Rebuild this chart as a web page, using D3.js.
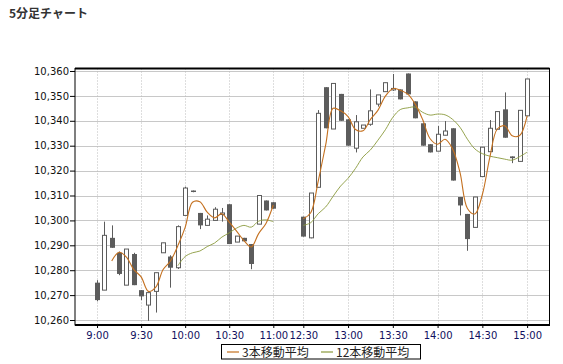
<!DOCTYPE html>
<html>
<head>
<meta charset="utf-8">
<script src="https://cdn.jsdelivr.net/npm/d3@7"></script>
<style>
  body { margin: 0; background: #fff; }
  svg { display: block; }
</style>
</head>
<body>
<svg id="chart" width="563" height="364"></svg>
<script>
'use strict';

// 5-minute bars, morning session then afternoon session
var times = [
  '9:00', '9:05', '9:10', '9:15', '9:20', '9:25', '9:30', '9:35', '9:40', '9:45',
  '9:50', '9:55', '10:00', '10:05', '10:10', '10:15', '10:20', '10:25', '10:30', '10:35',
  '10:40', '10:45', '10:50', '10:55', '11:00',
  '12:30', '12:35', '12:40', '12:45', '12:50', '12:55', '13:00', '13:05', '13:10', '13:15',
  '13:20', '13:25', '13:30', '13:35', '13:40', '13:45', '13:50', '13:55', '14:00', '14:05',
  '14:10', '14:15', '14:20', '14:25', '14:30', '14:35', '14:40', '14:45', '14:50', '14:55',
  '15:00'
];

var opens = [
  10275, 10272, 10293, 10287, 10274, 10286.5, 10272, 10266, 10271.5, 10287,
  10285.5, 10281, 10302, 10312, 10303, 10298, 10300, 10303, 10306.5, 10291.3,
  10293, 10290.5, 10298.5, 10308, 10307.3,
  10301.5, 10293, 10313.3, 10353.5, 10336.7, 10350.8, 10340.6, 10329, 10337, 10338.6,
  10346.7, 10351.7, 10353, 10352.6, 10359, 10347.8, 10339, 10330.6, 10327.8, 10334.2,
  10337, 10309.4, 10302.6, 10297.2, 10317.6, 10327.6, 10336.6, 10344.6, 10325.7, 10323.7,
  10342
];

var highs = [
  10276, 10299.5, 10298, 10287.5, 10288.5, 10287, 10272, 10271, 10279, 10291,
  10286, 10298, 10313.5, 10312, 10303, 10302, 10305.3, 10305, 10306.5, 10293.7,
  10293, 10290.5, 10310, 10308, 10307.3,
  10301.5, 10311, 10344.3, 10353.5, 10355, 10350.8, 10340.6, 10342.3, 10338.3, 10352.6,
  10350.4, 10355.3, 10358.8, 10352.6, 10359, 10347.8, 10339, 10330.6, 10337.9, 10339.9,
  10337, 10309.4, 10302.6, 10309.4, 10329.4, 10340.3, 10343.7, 10351.4, 10325.7, 10344.2,
  10356.8
];

var lows = [
  10267.5, 10272, 10289, 10278, 10274, 10274, 10268, 10259.7, 10263, 10287,
  10273, 10280.5, 10302, 10311.3, 10296.5, 10298, 10300, 10299.5, 10290.5, 10291.3,
  10291.6, 10280.4, 10298.5, 10304, 10304.7,
  10293.5, 10292.8, 10313.3, 10337, 10336.7, 10340, 10330, 10327.3, 10337, 10338,
  10345.7, 10351.7, 10352, 10348.6, 10350.6, 10341, 10330, 10327.3, 10327.8, 10334.2,
  10316, 10302, 10287.8, 10297.2, 10317.6, 10327.6, 10336.6, 10333.2, 10323, 10323.7,
  10342
];

var closes = [
  10268, 10294, 10289, 10278.5, 10288.5, 10274, 10269.5, 10271, 10279, 10291,
  10281, 10297.5, 10313, 10311.5, 10298, 10300.5, 10304.5, 10303, 10290.5, 10293.7,
  10291.6, 10282.5, 10310, 10304, 10304.7,
  10293.5, 10311, 10343, 10337, 10355, 10340, 10330, 10339.6, 10338.3, 10344,
  10350.4, 10355.3, 10353, 10348.6, 10350.6, 10341, 10330, 10327.3, 10334.6, 10335.9,
  10316, 10306, 10292.5, 10309.4, 10329.4, 10337, 10343.7, 10333.2, 10325, 10344.2,
  10356.8
];

var ma3 = [
  null, null, 10283.7, 10287.2, 10285.3, 10280.3, 10277.3, 10271.5, 10273.2, 10280.3,
  10283.7, 10289.8, 10297.2, 10307.3, 10307.5, 10303.3, 10301.0, 10302.7, 10299.3, 10295.7,
  10291.9, 10289.3, 10294.7, 10298.8, 10306.2,
  10300.7, 10303.1, 10315.8, 10330.3, 10345.0, 10344.0, 10341.7, 10336.5, 10336.0, 10340.6,
  10344.2, 10349.9, 10352.9, 10352.3, 10350.7, 10346.7, 10340.5, 10332.8, 10330.6, 10332.6,
  10328.8, 10319.3, 10304.8, 10302.6, 10310.4, 10325.3, 10336.7, 10338.0, 10334.0, 10334.1,
  10342.0
];

var ma12 = [
  null, null, null, null, null, null, null, null, null, null,
  null, 10281.8, 10285.5, 10287.0, 10287.7, 10289.5, 10290.9, 10293.3, 10295.0, 10296.9,
  10298.0, 10297.3, 10299.7, 10300.2, 10299.5,
  10298.0, 10299.1, 10302.7, 10305.4, 10309.7, 10313.8, 10316.9, 10320.9, 10325.5, 10328.3,
  10332.2, 10336.4, 10341.4, 10344.5, 10345.2, 10345.5, 10343.4, 10342.3, 10342.7, 10342.4,
  10340.6, 10337.4, 10332.6, 10328.7, 10326.8, 10325.8, 10325.2, 10324.6, 10324.2, 10325.6,
  10327.4
];

var xTickLabels = ['9:00', '9:30', '10:00', '10:30', '11:00', '12:30', '13:00', '13:30', '14:00', '14:30', '15:00'];
var yTickValues = [10260, 10270, 10280, 10290, 10300, 10310, 10320, 10330, 10340, 10350, 10360];
var seriesNames = ['3本移動平均', '12本移動平均'];

(function() {
  var colors = {
    ma3: '#c4701f',
    ma12: '#8a9a3c',
    candle: '#5c5c5c',
    grid: '#c8c8c8'
  };

  function minutes(t) {
    var p = t.split(':');
    return (+p[0]) * 60 + (+p[1]);
  }

  var svg = d3.select('#chart');
  var pLeft = 75, pRight = 549.5, pTop = 68.5, pBottom = 325;

  // time of day -> x, the lunch break squeezed down to a short gap
  var x = d3.scaleLinear()
    .domain([minutes('8:45'), minutes('11:00'), minutes('12:30'), minutes('15:15')])
    .range([pLeft, 273.3, 303.3, pRight]);

  var y = d3.scaleLinear()
    .domain([10258, 10361])
    .range([pBottom, pTop]);

  var data = times.map(function(t, i) {
    return {
      time: t, m: minutes(t),
      open: opens[i], high: highs[i], low: lows[i], close: closes[i],
      ma3: ma3[i], ma12: ma12[i]
    };
  });

  // title
  svg.append('text')
    .attr('x', 9)
    .attr('y', 18)
    .attr('font-family', '"Noto Sans CJK JP", sans-serif')
    .attr('font-size', 12)
    .attr('font-weight', 'bold')
    .attr('fill', '#333')
    .text('5分足チャート');

  // horizontal grid
  svg.append('g')
    .selectAll('line')
    .data(yTickValues)
    .join('line')
    .attr('x1', pLeft).attr('x2', pRight)
    .attr('y1', function(d) { return Math.round(y(d)) + 0.5; })
    .attr('y2', function(d) { return Math.round(y(d)) + 0.5; })
    .attr('stroke', colors.grid)
    .attr('stroke-width', 1);

  // vertical dotted grid
  svg.append('g')
    .selectAll('line')
    .data(xTickLabels)
    .join('line')
    .attr('x1', function(d) { return Math.round(x(minutes(d))) + 0.5; })
    .attr('x2', function(d) { return Math.round(x(minutes(d))) + 0.5; })
    .attr('y1', pTop).attr('y2', pBottom)
    .attr('stroke', '#bdbdbd')
    .attr('stroke-dasharray', '1,2');

  // candles
  var candles = svg.append('g');

  candles.selectAll('line')
    .data(data)
    .join('line')
    .attr('x1', function(d) { return Math.round(x(d.m)) + 0.5; })
    .attr('x2', function(d) { return Math.round(x(d.m)) + 0.5; })
    .attr('y1', function(d) { return y(d.high); })
    .attr('y2', function(d) { return y(d.low); })
    .attr('stroke', colors.candle)
    .attr('stroke-width', 1);

  candles.selectAll('rect')
    .data(data)
    .join('rect')
    .attr('x', function(d) {
      var cx = Math.round(x(d.m));
      return d.close >= d.open ? cx - 1.5 : cx - 2;
    })
    .attr('width', function(d) { return d.close >= d.open ? 4 : 5; })
    .attr('y', function(d) { return y(Math.max(d.open, d.close)); })
    .attr('height', function(d) { return Math.max(1.5, Math.abs(y(d.open) - y(d.close))); })
    .attr('fill', function(d) { return d.close >= d.open ? '#fff' : colors.candle; })
    .attr('stroke', function(d) { return d.close >= d.open ? colors.candle : 'none'; })
    .attr('stroke-width', 1);

  // moving averages, drawn per session
  var sessions = [
    data.filter(function(d) { return d.m <= minutes('11:00'); }),
    data.filter(function(d) { return d.m >= minutes('12:30'); })
  ];

  function maLine(key) {
    return d3.line()
      .defined(function(d) { return d[key] != null; })
      .x(function(d) { return x(d.m); })
      .y(function(d) { return y(d[key]); })
      .curve(d3.curveCatmullRom.alpha(0.5));
  }

  sessions.forEach(function(s) {
    svg.append('path')
      .datum(s)
      .attr('d', maLine('ma12'))
      .attr('fill', 'none')
      .attr('stroke', colors.ma12)
      .attr('stroke-width', 0.9);

    svg.append('path')
      .datum(s)
      .attr('d', maLine('ma3'))
      .attr('fill', 'none')
      .attr('stroke', colors.ma3)
      .attr('stroke-width', 1.1);
  });

  // frame
  svg.append('rect')
    .attr('x', pLeft).attr('y', pTop)
    .attr('width', pRight - pLeft).attr('height', pBottom - pTop)
    .attr('fill', 'none')
    .attr('stroke', '#000')
    .attr('stroke-width', 1);

  svg.append('line')
    .attr('x1', pLeft).attr('x2', pRight)
    .attr('y1', pTop).attr('y2', pTop)
    .attr('stroke', '#000').attr('stroke-width', 2);

  // axes
  var yAxis = svg.append('g')
    .attr('transform', 'translate(' + pLeft + ',0)')
    .call(d3.axisLeft(y).tickValues(yTickValues).tickSize(5).tickPadding(1).tickFormat(d3.format(',')));

  var xAxis = svg.append('g')
    .attr('transform', 'translate(0,' + pBottom + ')')
    .call(d3.axisBottom(x).tickValues(xTickLabels.map(minutes)).tickSize(3).tickPadding(4)
      .tickFormat(function(d, i) { return xTickLabels[i]; }));

  [yAxis, xAxis].forEach(function(g) {
    g.select('.domain').remove();
    g.selectAll('.tick line').attr('stroke', '#000');
    g.selectAll('text')
      .attr('font-family', '"DejaVu Sans", sans-serif')
      .attr('font-size', 10);
  });
  yAxis.selectAll('text').attr('fill', '#111');
  xAxis.selectAll('text').attr('fill', '#101060');

  svg.append('line')
    .attr('x1', pLeft).attr('x2', pRight + 0.5)
    .attr('y1', pBottom).attr('y2', pBottom)
    .attr('stroke', '#000').attr('stroke-width', 2);

  // legend
  var legend = svg.append('g');
  legend.append('rect')
    .attr('x', 221.5).attr('y', 344.5)
    .attr('width', 199).attr('height', 14.5)
    .attr('fill', '#fff')
    .attr('stroke', '#000');

  var legendX = [227, 321];
  var legendColors = [colors.ma3, colors.ma12];
  seriesNames.forEach(function(name, i) {
    legend.append('line')
      .attr('x1', legendX[i]).attr('x2', legendX[i] + 12)
      .attr('y1', 352).attr('y2', 352)
      .attr('stroke', legendColors[i])
      .attr('stroke-width', 1.2);
    legend.append('text')
      .attr('x', legendX[i] + 15)
      .attr('y', 356.5)
      .attr('font-family', '"Noto Sans CJK JP", sans-serif')
      .attr('font-size', 12)
      .attr('fill', '#222')
      .text(name);
  });
})();
</script>
</body>
</html>
